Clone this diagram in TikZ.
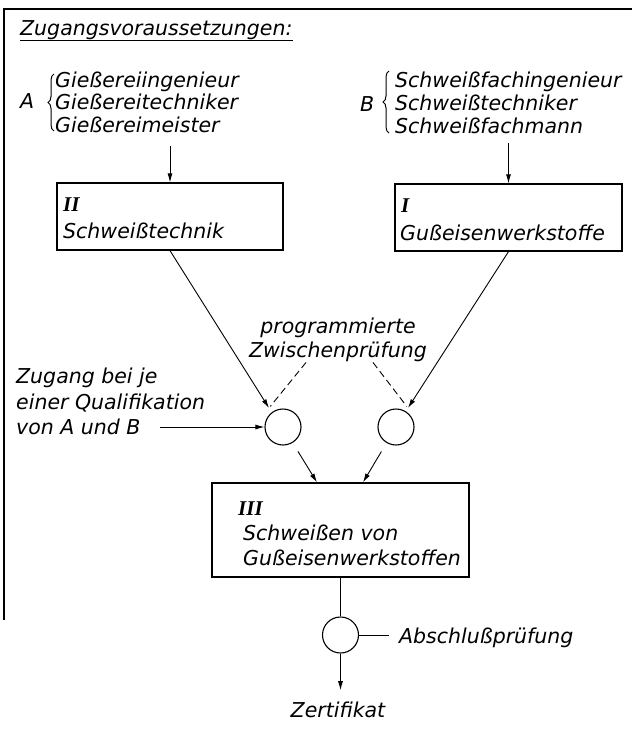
\documentclass[tikz,border=0pt]{standalone}
\usepackage{fontspec}
\setmainfont{DejaVu Sans}
\newfontfamily\romfont{Liberation Serif}
\usetikzlibrary{arrows.meta,decorations.pathreplacing}
\begin{document}
\begin{tikzpicture}[x=1pt,y=-1pt,
  every node/.style={font=\fontsize{20.5}{24}\selectfont\itshape, inner sep=0pt},
  lbl/.style={anchor=base west},
  rom/.style={anchor=base west, font=\fontsize{21}{24}\selectfont\romfont\bfseries\itshape},
  box/.style={draw, rectangle, line width=1.2pt},
  ring/.style={draw, circle, minimum size=36pt, line width=1.1pt},
  conn/.style={line width=0.9pt},
  arr/.style={conn, -{Latex[length=9pt,width=5pt]}},
  dashline/.style={conn, dash pattern=on 7pt off 4pt},
  bracket/.style={line width=1pt, decorate, decoration={brace, amplitude=6pt}}]
\useasboundingbox (0,0) rectangle (632,732);

% frame lines
\draw[line width=1.4pt] (632,9) -- (4,9) -- (4,620);

% heading
\node[lbl] (title) at (20,35) {Zugangsvoraussetzungen:};
\draw[line width=1pt] ([yshift=-5pt]title.base west) -- ([yshift=-5pt]title.base east);

% group A
\node[lbl] (A) at (20,108) {A};
\node[lbl] (a1) at (55,87) {Gießereiingenieur};
\node[lbl] (a2) at (55,109) {Gießereitechniker};
\node[lbl] (a3) at (55,132) {Gießereimeister};
\draw[bracket] (54,131) -- (54,74);

% group B
\node[lbl] (B) at (360,111) {B};
\node[lbl] (b1) at (395,87) {Schweißfachingenieur};
\node[lbl] (b2) at (395,110) {Schweißtechniker};
\node[lbl] (b3) at (395,133) {Schweißfachmann};
\draw[bracket] (389,133) -- (389,71);

% course boxes
\node[box, minimum width=226pt, minimum height=67pt] (II) at (170,216.5) {};
\node[rom] (IIn) at (63,211) {II};
\node[lbl] (IIt) at (63,238) {Schweißtechnik};

\node[box, minimum width=227pt, minimum height=67pt] (I) at (508.5,217.5) {};
\node[rom] (In) at (401,212) {I};
\node[lbl] (It) at (400,240) {Gußeisenwerkstoffe};

\node[box, minimum width=257pt, minimum height=94pt] (III) at (340.5,530) {};
\node[rom] (IIIn) at (238,515) {III};
\node[lbl] (IIIt1) at (243,540) {Schweißen von};
\node[lbl] (IIIt2) at (243,565) {Gußeisenwerkstoffen};

\draw[arr] ([yshift=-14pt]II.north |- a3.base) -- (II.north);
\draw[arr] ([yshift=-10pt]I.north |- b3.base) -- (I.north);

% intermediate tests
\node[ring] (c1) at (283,427) {};
\node[ring] (c2) at (396,427) {};
\coordinate (m1) at (269,408);
\coordinate (m2) at (408,408);

\node[anchor=base] (p1) at (338,333) {programmierte};
\node[anchor=base] (p2) at (338,357) {Zwischenprüfung};

\draw[arr] (II.south) -- (m1);
\draw[arr] (I.south) -- (m2);
\draw[dashline, shorten >=2pt] ([xshift=-32pt,yshift=-1pt]p2.south) -- (m1);
\draw[dashline, shorten >=2pt] ([xshift=35pt,yshift=-1pt]p2.south) -- (m2);

\node[lbl] (z1) at (16,383) {Zugang bei je};
\node[lbl] (z2) at (16,409) {einer Qualifikation};
\node[lbl] (z3) at (16,434) {von A und B};
\draw[arr] ([xshift=19pt]z3.east |- c1.west) -- (c1.west);

\draw[arr, shorten <=10pt] (c1) -- ([xshift=-23.5pt]III.north);
\draw[arr, shorten <=10pt] (c2) -- ([xshift=22.5pt]III.north);

% final examination
\node[ring] (c3) at (340.5,635) {};
\node[lbl] (ab) at (399,643) {Abschlußprüfung};
\node[anchor=base] (zert) at (338,717) {Zertifikat};
\draw[conn] (III.south) -- (c3.north);
\draw[conn, shorten >=10pt] (c3.east) -- (c3.east -| ab.west);
\draw[arr, shorten >=11pt] (c3.south) -- (c3.south |- zert.north);
\end{tikzpicture}
\end{document}
